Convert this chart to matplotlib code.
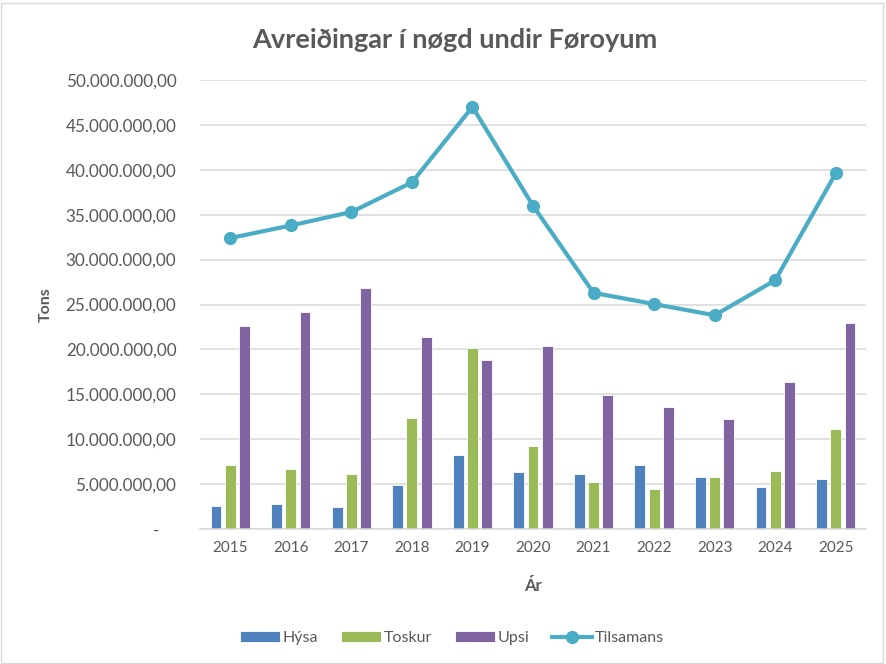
import numpy as np
import matplotlib.pyplot as plt
from matplotlib.ticker import FuncFormatter
from matplotlib.patches import Rectangle

years = ["2015", "2016", "2017", "2018", "2019", "2020", "2021", "2022", "2023", "2024", "2025"]
hysa = [2.6, 2.8, 2.45, 4.9, 8.2, 6.3, 6.1, 7.1, 5.75, 4.7, 5.55]
toskur = [7.1, 6.65, 6.1, 12.35, 20.15, 9.25, 5.2, 4.5, 5.75, 6.45, 11.1]
upsi = [22.6, 24.2, 26.8, 21.4, 18.8, 20.35, 14.95, 13.6, 12.2, 16.35, 22.95]
tilsamans = [32.4, 33.8, 35.3, 38.6, 47.0, 36.0, 26.3, 25.05, 23.8, 27.7, 39.6]

# values above are in millions of tons
M = 1e6
hysa = [v * M for v in hysa]
toskur = [v * M for v in toskur]
upsi = [v * M for v in upsi]
tilsamans = [v * M for v in tilsamans]

plt.rcParams['font.family'] = ['Lato', 'DejaVu Sans']
grey = "#595959"

fig = plt.figure(figsize=(8.86, 6.64), dpi=100)
ax = fig.add_axes([200 / 886, 1 - 529 / 664, 666 / 886, 449 / 664])

x = np.arange(len(years))
w = 0.18
off = 0.235
b1 = ax.bar(x - off, hysa, w, color="#4F81BD", edgecolor="white", linewidth=0.6, label="Hýsa", zorder=2)
b2 = ax.bar(x, toskur, w, color="#9BBB59", edgecolor="white", linewidth=0.6, label="Toskur", zorder=2)
b3 = ax.bar(x + off, upsi, w, color="#8064A2", edgecolor="white", linewidth=0.6, label="Upsi", zorder=2)
l1, = ax.plot(x, tilsamans, color="#4BACC6", linewidth=3, marker="o", markersize=8.5,
              label="Tilsamans", zorder=3)

ax.set_xlim(-0.5, len(years) - 0.5)
ax.set_ylim(0, 50 * M)
ax.set_yticks(np.arange(0, 50 * M + 1, 5 * M))


def fmt(v, pos):
    if v == 0:
        return "-    "
    s = f"{v:,.2f}"
    return s.replace(",", "X").replace(".", ",").replace("X", ".")


ax.yaxis.set_major_formatter(FuncFormatter(fmt))
ax.set_xticks(x)
ax.set_xticklabels(years)
ax.tick_params(axis="x", length=0, labelsize=11, labelcolor=grey, pad=9)
ax.tick_params(axis="y", length=0, labelsize=12.3, labelcolor=grey, pad=17)
ax.grid(axis="y", color="#D9D9D9", linewidth=1.1, zorder=0)
ax.set_axisbelow(True)
for s in ["top", "right", "left"]:
    ax.spines[s].set_visible(False)
ax.spines["bottom"].set_color("#D9D9D9")
ax.spines["bottom"].set_linewidth(1.1)

ax.set_ylabel("Tons", fontsize=11.5, fontweight="bold", color=grey, labelpad=9)
ax.set_xlabel("Ár", fontsize=12, fontweight="bold", color=grey, labelpad=16)
fig.text(455 / 886, 1 - 40 / 664, "Avreiðingar í nøgd undir Føroyum", ha="center", va="center",
         fontsize=19.5, fontweight="bold", color=grey)

fig.legend([b1, b2, b3, l1], ["Hýsa", "Toskur", "Upsi", "Tilsamans"],
           loc="center", bbox_to_anchor=(452 / 886, 1 - 638 / 664), ncol=4, frameon=False,
           fontsize=11.5, labelcolor=grey, handlelength=2.5, handleheight=0.75, columnspacing=1.4,
           handletextpad=0.2)

fig.patches.append(Rectangle((1 / 886, 1 / 664), 882 / 886, 660 / 664, transform=fig.transFigure,
                             fill=False, edgecolor="#D9D9D9", linewidth=1))

fig.savefig("out.png", dpi=100)
